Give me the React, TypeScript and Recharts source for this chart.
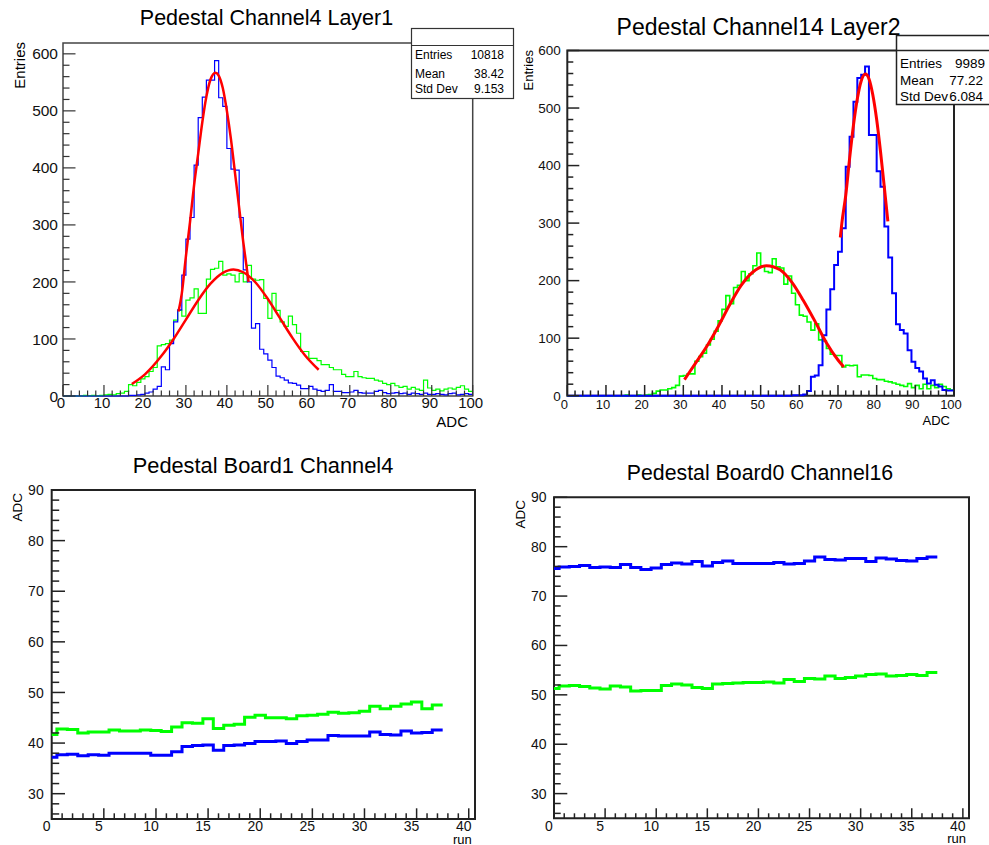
import React from 'react';
import { ComposedChart, Line, XAxis, YAxis, ReferenceArea } from 'recharts';

const FONT = '"Liberation Sans", Arial, Helvetica, sans-serif';

// ---- Pedestal Channel4 Layer1: entries per ADC bin (bins 0..99, width 1) ----
const ch4Layer1Blue = [
  0, 0, 0, 0, 0, 0, 0, 0, 0, 0,
  0, 0, 0, 0, 0, 0, 1, 1, 2, 3,
  5, 7, 12, 17, 51, 46, 92, 130, 151, 212,
  275, 313, 405, 488, 524, 554, 554, 588, 523, 508,
  434, 398, 396, 313, 221, 200, 119, 127, 82, 74,
  63, 50, 35, 32, 28, 23, 22, 19, 13, 13,
  17, 12, 10, 8, 10, 20, 8, 8, 6, 6,
  7, 10, 6, 5, 5, 5, 8, 10, 6, 4,
  5, 6, 4, 5, 3, 5, 4, 3, 5, 3,
  3, 4, 3, 2, 4, 5, 2, 3, 4, 3,
];
const ch4Layer1Green = [
  0, 0, 0, 0, 0, 1, 0, 1, 0, 1,
  2, 3, 2, 4, 5, 8, 20, 18, 24, 30,
  34, 43, 50, 88, 90, 92, 98, 133, 150, 140,
  168, 172, 188, 145, 145, 205, 222, 224, 236, 212,
  214, 212, 200, 215, 200, 229, 205, 203, 204, 171,
  136, 180, 150, 130, 122, 140, 125, 110, 78, 78,
  66, 66, 62, 55, 55, 50, 46, 46, 38, 34,
  34, 43, 34, 32, 31, 31, 28, 26, 22, 20,
  22, 18, 15, 17, 12, 15, 12, 10, 28, 14,
  10, 12, 9, 12, 14, 12, 15, 18, 12, 8,
];
// fitted gaussian curves, sampled along the drawn curve
const ch4Layer1BlueFitAdc = [28.2, 29, 30, 31, 32, 33, 34, 35, 36, 37.2, 38, 39, 40, 41, 42, 43, 44, 45.3];
const ch4Layer1BlueFitEntries = [148, 180, 245, 305, 370, 425, 480, 525, 555, 567, 562, 540, 500, 450, 390, 330, 270, 200];
const ch4Layer1GreenFitAdc = [16.8, 20, 24, 27, 30, 33, 36, 39, 41.6, 44, 47, 50, 53, 56, 59, 62.4];
const ch4Layer1GreenFitEntries = [21, 38, 70, 100, 134, 168, 197, 216, 222, 217, 199, 170, 136, 102, 72, 46];

// ---- Pedestal Channel14 Layer2 ----
const ch14Layer2Blue = [
  0, 0, 0, 0, 0, 0, 0, 0, 0, 0,
  0, 0, 0, 0, 0, 0, 0, 0, 0, 0,
  0, 0, 0, 0, 0, 0, 0, 0, 0, 0,
  0, 0, 0, 0, 0, 0, 0, 0, 0, 0,
  0, 0, 0, 0, 0, 0, 0, 0, 0, 0,
  0, 0, 0, 0, 0, 0, 0, 0, 1, 1,
  1, 2, 8, 33, 35, 53, 105, 150, 185, 227,
  250, 291, 398, 450, 511, 552, 558, 572, 453, 453,
  390, 363, 294, 240, 178, 124, 114, 108, 79, 59,
  48, 42, 30, 21, 27, 19, 16, 10, 9, 9,
];
const ch14Layer2Green = [
  0, 0, 0, 0, 0, 0, 0, 0, 0, 0,
  0, 0, 0, 0, 0, 1, 0, 0, 1, 0,
  1, 2, 4, 8, 10, 10, 12, 14, 18, 34,
  35, 38, 38, 60, 68, 74, 88, 98, 112, 130,
  150, 174, 160, 188, 192, 216, 200, 212, 226, 248,
  226, 216, 214, 238, 224, 222, 194, 208, 178, 158,
  140, 138, 128, 114, 125, 97, 95, 82, 72, 70,
  70, 50, 53, 52, 53, 33, 36, 36, 35, 30,
  28, 28, 25, 24, 22, 20, 18, 16, 21, 14,
  18, 12, 20, 12, 18, 14, 20, 16, 12, 10,
];
const ch14Layer2GreenFitAdc = [30.3, 33, 36, 39, 42, 45, 48, 51.5, 55, 58, 61, 64, 67, 70, 71.5];
const ch14Layer2GreenFitEntries = [28, 55, 85, 120, 158, 192, 215, 226, 219, 198, 166, 130, 92, 62, 50];
const ch14Layer2BlueFitAdc = [70.6, 71, 72, 73, 74, 75, 76, 77.1, 78, 79, 80, 81, 82, 82.9];
const ch14Layer2BlueFitEntries = [275, 300, 348, 412, 470, 516, 547, 559, 551, 523, 480, 424, 361, 303];

// ---- pedestal mean per run (runs 0..37) ----
const board1Ch4Blue = [
  37.2, 37.7, 37.8, 37.5, 37.7, 37.6, 38.0, 38.0, 38.0, 38.0,
  37.6, 37.6, 38.3, 39.3, 39.5, 39.6, 38.6, 39.5, 39.6, 39.9,
  40.3, 40.3, 40.4, 39.9, 40.3, 40.6, 40.6, 41.5, 41.4, 41.4,
  41.4, 42.2, 41.7, 41.6, 42.4, 42.0, 42.1, 42.6,
];
const board1Ch4Green = [
  41.7, 42.8, 42.7, 42.0, 42.2, 42.2, 42.6, 42.4, 42.4, 42.6,
  42.5, 42.3, 43.2, 44.0, 43.9, 44.8, 42.9, 43.5, 43.7, 45.1,
  45.5, 45.0, 45.0, 44.8, 45.4, 45.5, 45.7, 46.1, 45.9, 46.0,
  46.3, 47.3, 46.8, 47.3, 47.7, 48.1, 46.8, 47.5,
];
const board0Ch16Blue = [
  75.6, 75.9, 76.0, 76.2, 75.8, 75.9, 75.8, 76.4, 75.8, 75.4,
  75.7, 76.4, 76.7, 76.5, 77.0, 76.1, 76.8, 77.1, 76.6, 76.6,
  76.6, 76.6, 76.8, 76.5, 76.6, 77.1, 77.9, 77.4, 77.3, 77.6,
  77.6, 77.0, 77.7, 77.5, 77.2, 77.1, 77.6, 77.9,
];
const board0Ch16Green = [
  51.3, 51.8, 51.9, 51.7, 51.4, 51.2, 51.8, 51.6, 50.8, 50.9,
  50.9, 51.9, 52.2, 52.0, 51.5, 51.3, 52.2, 52.3, 52.4, 52.5,
  52.5, 52.6, 52.4, 53.1, 52.7, 53.3, 53.2, 53.8, 53.3, 53.5,
  53.8, 54.1, 54.2, 53.8, 53.9, 54.1, 53.9, 54.5,
];

// ---- tick sets ----
const seq = (lo: number, hi: number, step: number) => {
  const out: number[] = [];
  for (let v = lo; v <= hi + 1e-9; v += step) out.push(Math.round(v * 1000) / 1000);
  return out;
};
const adcTicks = seq(0, 100, 2); // labelled every 10
const entriesTicks = seq(0, 600, 20); // labelled every 100
const runTicks = seq(0, 40, 1); // labelled every 5
const pedestalTicks = seq(26, 90, 2); // labelled every 10

// ---- row builders ----
type Row = { x: number; y: number };
const binRows = (vals: number[]): Row[] =>
  vals.map((y, i) => ({ x: i, y })).concat([{ x: vals.length, y: vals[vals.length - 1] }]);
const runRows = (vals: number[]): Row[] =>
  vals.map((y, i) => ({ x: Math.max(0, i - 0.5), y })).concat([{ x: vals.length - 0.5, y: vals[vals.length - 1] }]);
const curveRows = (xs: number[], ys: number[]): Row[] => xs.map((x, i) => ({ x, y: ys[i] }));

type AxisStyle = {
  major: number;
  majorLen: number;
  minorLen: number;
  fontSize: number;
  offset: number; // label gap (y axis) or baseline drop (x axis)
  dx?: number;
  color: string;
  width: number;
};

const isMajor = (v: number, step: number) => Math.abs(v / step - Math.round(v / step)) < 1e-6;

function renderXTick(p: any, s: AxisStyle) {
  const { x, y, payload } = p;
  const v = payload.value as number;
  const major = isMajor(v, s.major);
  return (
    <g>
      <line x1={x} x2={x} y1={y} y2={y - (major ? s.majorLen : s.minorLen)} stroke={s.color} strokeWidth={s.width} />
      {major && (
        <text x={x + (s.dx || 0)} y={y + s.offset} textAnchor="middle" fontSize={s.fontSize} fontFamily={FONT} fill="#111">
          {v}
        </text>
      )}
    </g>
  );
}

function renderYTick(p: any, s: AxisStyle) {
  const { x, y, payload } = p;
  const v = payload.value as number;
  const major = isMajor(v, s.major);
  return (
    <g>
      <line x1={x} x2={x + (major ? s.majorLen : s.minorLen)} y1={y} y2={y} stroke={s.color} strokeWidth={s.width} />
      {major && (
        <text x={x - s.offset} y={y + s.fontSize * 0.36} textAnchor="end" fontSize={s.fontSize} fontFamily={FONT} fill="#111">
          {v}
        </text>
      )}
    </g>
  );
}

type Series = { rows: Row[]; color: string; width: number; curve: 'stepAfter' | 'monotone' };

type PanelProps = {
  left: number;
  top: number;
  width: number;
  height: number;
  plot: { top: number; right: number; bottom: number; left: number }; // plot-area insets
  xDomain: [number, number];
  yDomain: [number, number];
  xTicks: number[];
  yTicks: number[];
  xStyle: AxisStyle;
  yStyle: AxisStyle;
  frameColor: string;
  frameWidth: number;
  series: Series[];
};

// axes take a 1px band so that they render; the margins leave room for it
const AXIS_BAND = 1;

function Panel(props: PanelProps) {
  const { left, top, width, height, plot, xDomain, yDomain, xTicks, yTicks, xStyle, yStyle, frameColor, frameWidth, series } = props;
  const margin = {
    top: plot.top,
    right: plot.right,
    left: plot.left - AXIS_BAND,
    bottom: plot.bottom - AXIS_BAND,
  };
  return (
    <div style={{ position: 'absolute', left, top }}>
      <ComposedChart width={width} height={height} margin={margin}>
        <XAxis
          type="number"
          dataKey="x"
          domain={xDomain}
          ticks={xTicks}
          interval={0}
          height={AXIS_BAND}
          tickSize={0}
          tickMargin={0}
          axisLine={false}
          tickLine={false}
          tick={(p: any) => renderXTick(p, xStyle)}
        />
        <YAxis
          type="number"
          domain={yDomain}
          ticks={yTicks}
          interval={0}
          width={AXIS_BAND}
          tickSize={0}
          tickMargin={0}
          axisLine={false}
          tickLine={false}
          tick={(p: any) => renderYTick(p, yStyle)}
        />
        <ReferenceArea
          x1={xDomain[0]}
          x2={xDomain[1]}
          y1={yDomain[0]}
          y2={yDomain[1]}
          fill="none"
          fillOpacity={0}
          stroke={frameColor}
          strokeWidth={frameWidth}
        />
        {series.map((s, i) => (
          <Line
            key={i}
            data={s.rows}
            dataKey="y"
            type={s.curve}
            stroke={s.color}
            strokeWidth={s.width}
            dot={false}
            activeDot={false}
            isAnimationActive={false}
          />
        ))}
      </ComposedChart>
    </div>
  );
}

const BLUE = '#0000ff';
const GREEN = '#00ff00';
const RED = '#ff0000';

export default function App() {
  const txt = { fontFamily: FONT, fill: '#000' } as const;
  return (
    <div style={{ position: 'absolute', left: 0, top: 0, width: 989, height: 845, background: '#fff', overflow: 'hidden' }}>
      <Panel
        left={0}
        top={0}
        width={500}
        height={440}
        plot={{ top: 43, left: 63, right: 27.3, bottom: 44 }}
        xDomain={[0, 100]}
        yDomain={[0, 619]}
        xTicks={adcTicks}
        yTicks={entriesTicks}
        xStyle={{ major: 10, majorLen: 11, minorLen: 5.5, fontSize: 15, offset: 12, dx: -2, color: '#333', width: 1.2 }}
        yStyle={{ major: 100, majorLen: 12.5, minorLen: 6.5, fontSize: 15.5, offset: 5, color: '#333', width: 1.2 }}
        frameColor="#444"
        frameWidth={1.5}
        series={[
          { rows: binRows(ch4Layer1Green), color: GREEN, width: 1.2, curve: 'stepAfter' },
          { rows: binRows(ch4Layer1Blue), color: BLUE, width: 1.2, curve: 'stepAfter' },
          { rows: curveRows(ch4Layer1GreenFitAdc, ch4Layer1GreenFitEntries), color: RED, width: 2.5, curve: 'monotone' },
          { rows: curveRows(ch4Layer1BlueFitAdc, ch4Layer1BlueFitEntries), color: RED, width: 2.5, curve: 'monotone' },
        ]}
      />
      <Panel
        left={500}
        top={0}
        width={489}
        height={440}
        plot={{ top: 50.5, left: 67.3, right: 35, bottom: 44.3 }}
        xDomain={[0, 100]}
        yDomain={[0, 600]}
        xTicks={adcTicks}
        yTicks={entriesTicks}
        xStyle={{ major: 10, majorLen: 10.7, minorLen: 5.3, fontSize: 13, offset: 13.3, dx: -3, color: '#222', width: 1.5 }}
        yStyle={{ major: 100, majorLen: 12, minorLen: 6, fontSize: 13.5, offset: 6.5, color: '#222', width: 1.5 }}
        frameColor="#222"
        frameWidth={2}
        series={[
          { rows: binRows(ch14Layer2Green), color: GREEN, width: 1.6, curve: 'stepAfter' },
          { rows: binRows(ch14Layer2Blue), color: BLUE, width: 2, curve: 'stepAfter' },
          { rows: curveRows(ch14Layer2GreenFitAdc, ch14Layer2GreenFitEntries), color: RED, width: 3, curve: 'monotone' },
          { rows: curveRows(ch14Layer2BlueFitAdc, ch14Layer2BlueFitEntries), color: RED, width: 3, curve: 'monotone' },
        ]}
      />
      <Panel
        left={0}
        top={440}
        width={490}
        height={405}
        plot={{ top: 50, left: 51.7, right: 15, bottom: 26 }}
        xDomain={[0, 40.6]}
        yDomain={[25, 90]}
        xTicks={runTicks}
        yTicks={pedestalTicks}
        xStyle={{ major: 5, majorLen: 10.7, minorLen: 5.7, fontSize: 14, offset: 12.2, dx: -5, color: '#222', width: 1.5 }}
        yStyle={{ major: 10, majorLen: 13.3, minorLen: 7.5, fontSize: 14, offset: 8, color: '#222', width: 1.5 }}
        frameColor="#222"
        frameWidth={2}
        series={[
          { rows: runRows(board1Ch4Green), color: GREEN, width: 3, curve: 'stepAfter' },
          { rows: runRows(board1Ch4Blue), color: BLUE, width: 3, curve: 'stepAfter' },
        ]}
      />
      <Panel
        left={490}
        top={440}
        width={499}
        height={405}
        plot={{ top: 57.3, left: 64, right: 20, bottom: 26.7 }}
        xDomain={[0, 40.6]}
        yDomain={[25, 90]}
        xTicks={runTicks}
        yTicks={pedestalTicks}
        xStyle={{ major: 5, majorLen: 10, minorLen: 5, fontSize: 14, offset: 12.8, dx: -5, color: '#222', width: 1.5 }}
        yStyle={{ major: 10, majorLen: 13.3, minorLen: 6.7, fontSize: 14, offset: 7.5, color: '#222', width: 1.5 }}
        frameColor="#222"
        frameWidth={2}
        series={[
          { rows: runRows(board0Ch16Blue), color: BLUE, width: 3, curve: 'stepAfter' },
          { rows: runRows(board0Ch16Green), color: GREEN, width: 3, curve: 'stepAfter' },
        ]}
      />

      <svg width={989} height={845} style={{ position: 'absolute', left: 0, top: 0, pointerEvents: 'none' }}>
        {/* titles */}
        <text x={266.5} y={25} textAnchor="middle" fontSize={21.5} {...txt}>Pedestal Channel4 Layer1</text>
        <text x={758.5} y={35} textAnchor="middle" fontSize={23} {...txt}>Pedestal Channel14 Layer2</text>
        <text x={263} y={472.7} textAnchor="middle" fontSize={21.8} {...txt}>Pedestal Board1 Channel4</text>
        <text x={760} y={480} textAnchor="middle" fontSize={21.3} {...txt}>Pedestal Board0 Channel16</text>

        {/* axis titles */}
        <text x={25} y={42} transform="rotate(-90 25 42)" textAnchor="end" fontSize={15} {...txt}>Entries</text>
        <text x={468} y={427} textAnchor="end" fontSize={15} {...txt}>ADC</text>
        <text x={533} y={50} transform="rotate(-90 533 50)" textAnchor="end" fontSize={13} {...txt}>Entries</text>
        <text x={950} y={425} textAnchor="end" fontSize={13} {...txt}>ADC</text>
        <text x={21.7} y={493} transform="rotate(-90 21.7 493)" textAnchor="end" fontSize={13.5} {...txt}>ADC</text>
        <text x={471.7} y={843.5} textAnchor="end" fontSize={13} {...txt}>run</text>
        <text x={525} y={500} transform="rotate(-90 525 500)" textAnchor="end" fontSize={13.5} {...txt}>ADC</text>
        <text x={966} y={843} textAnchor="end" fontSize={13} {...txt}>run</text>

        {/* statistics box, Channel4 Layer1 */}
        <rect x={411.5} y={28.5} width={102} height={70} fill="#fff" stroke="#333" strokeWidth={1.2} />
        <line x1={411.5} x2={513.5} y1={45.5} y2={45.5} stroke="#333" strokeWidth={1.2} />
        <text x={415} y={59} fontSize={12} {...txt}>Entries</text>
        <text x={504} y={59} fontSize={12} textAnchor="end" {...txt}>10818</text>
        <text x={415} y={78} fontSize={12} {...txt}>Mean</text>
        <text x={504} y={78} fontSize={12} textAnchor="end" {...txt}>38.42</text>
        <text x={415} y={93} fontSize={12} {...txt}>Std Dev</text>
        <text x={504} y={93} fontSize={12} textAnchor="end" {...txt}>9.153</text>

        {/* statistics box, Channel14 Layer2 */}
        <rect x={896.5} y={35.5} width={110} height={69} fill="#fff" stroke="#222" strokeWidth={1.5} />
        <line x1={896.5} x2={989} y1={50.5} y2={50.5} stroke="#222" strokeWidth={1.5} />
        <text x={900} y={68} fontSize={13.5} {...txt}>Entries</text>
        <text x={985} y={68} fontSize={13.5} textAnchor="end" {...txt}>9989</text>
        <text x={900} y={84.5} fontSize={13.5} {...txt}>Mean</text>
        <text x={983} y={84.5} fontSize={13.5} textAnchor="end" {...txt}>77.22</text>
        <text x={900} y={100.5} fontSize={13.5} {...txt}>Std Dev</text>
        <text x={983} y={100.5} fontSize={13.5} textAnchor="end" {...txt}>6.084</text>
      </svg>
    </div>
  );
}
